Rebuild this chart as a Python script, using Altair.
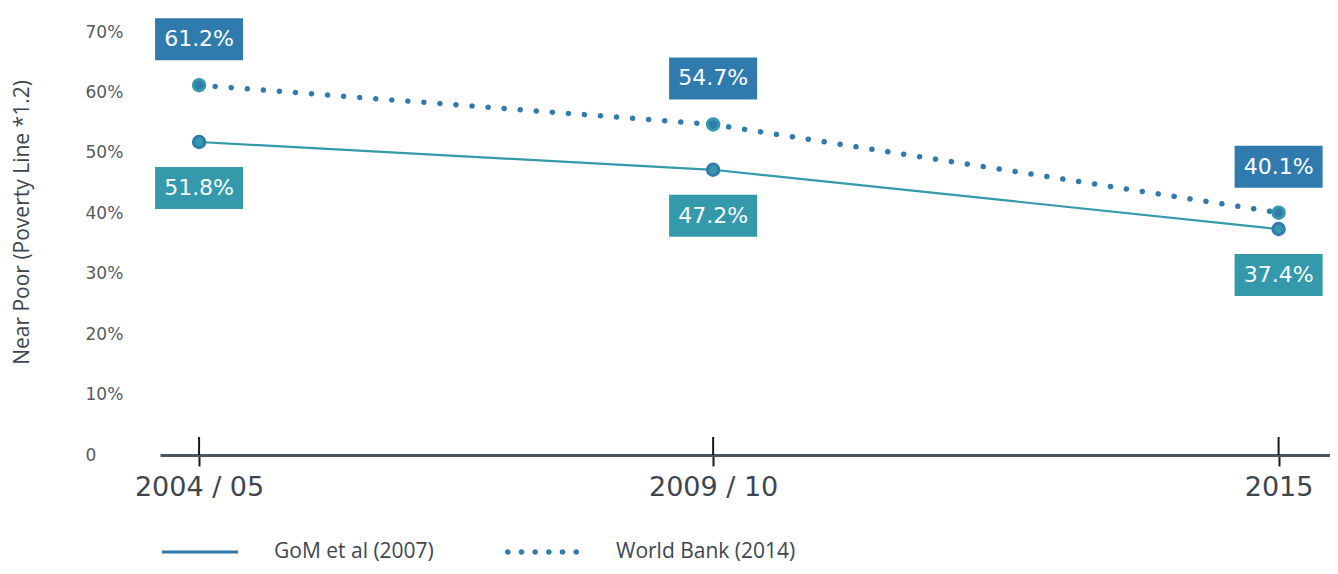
import altair as alt
import pandas as pd

# ---- data ----
periods = [2004.5, 2009.5, 2015]
period_labels = ["2004 / 05", "2009 / 10", "2015"]
gom_values = [51.8, 47.2, 37.4]
wb_values = [61.2, 54.7, 40.1]
series_names = ["GoM et al (2007)", "World Bank (2014)"]
y_ticks = [0, 10, 20, 30, 40, 50, 60, 70]

BLUE = "#2f7bae"
TEAL = "#3399ab"
TEXT = "#3d4650"
NUM_FONT = "DejaVu Sans"
TXT_FONT = "Open Sans"

rows = []
for p, pl, g, w in zip(periods, period_labels, gom_values, wb_values):
    rows.append({"period": p, "label": pl, "value": g, "series": series_names[0], "txt": f"{g:.1f}%"})
    rows.append({"period": p, "label": pl, "value": w, "series": series_names[1], "txt": f"{w:.1f}%"})
df = pd.DataFrame(rows)

W, H = 1170, 423

label_expr = " : ".join(
    f"datum.value == {p} ? '{l}'" for p, l in zip(periods[:-1], period_labels[:-1])
) + f" : '{period_labels[-1]}'"

x_enc = alt.X(
    "period:Q",
    scale=alt.Scale(domain=[2004.12, 2015.5], nice=False, zero=False),
    axis=alt.Axis(
        values=periods,
        labelExpr=label_expr,
        title=None,
        grid=False,
        domainColor="#4a5560",
        domainWidth=3,
        tickColor="#1a1a1a",
        tickWidth=2,
        tickSize=11,
        labelFont=NUM_FONT,
        labelFontSize=27,
        labelColor=TEXT,
        labelPadding=8,
    ),
)
y_enc = alt.Y(
    "value:Q",
    scale=alt.Scale(domain=[0, 70], nice=False),
    axis=alt.Axis(
        values=y_ticks,
        labelExpr="datum.value == 0 ? '0' : datum.value + '%'",
        title="Near Poor (Poverty Line *1.2)",
        titleFont=TXT_FONT,
        titleFontSize=21,
        titleFontWeight="normal",
        titleColor=TEXT,
        titleX=-138,
        titleY=190,
        titleBaseline="middle",
        grid=False,
        domain=False,
        ticks=False,
        labelAlign="left",
        labelPadding=75,
        labelFont=NUM_FONT,
        labelFontSize=17,
        labelColor="#555a60",
    ),
)

base = alt.Chart(df)
gom = base.transform_filter(alt.datum.series == series_names[0])
wb = base.transform_filter(alt.datum.series == series_names[1])

gom_line = gom.mark_line(color=TEAL, strokeWidth=2.2).encode(x=x_enc, y=y_enc)
wb_line = wb.mark_line(color=BLUE, strokeWidth=5.5, strokeDash=[0.1, 16], strokeCap="round").encode(x=x_enc, y=y_enc)

gom_pts = gom.mark_point(filled=True, fill=TEAL, stroke=BLUE, strokeWidth=3, size=130, opacity=1).encode(x=x_enc, y=y_enc)
wb_pts = wb.mark_point(filled=True, fill=BLUE, stroke=TEAL, strokeWidth=3, size=130, opacity=1).encode(x=x_enc, y=y_enc)

BOX_W, BOX_H = 88, 42
wb_box = wb.mark_rect(color=BLUE, width=BOX_W, height=BOX_H, yOffset=-46).encode(x=x_enc, y=y_enc)
gom_box = gom.mark_rect(color=TEAL, width=BOX_W, height=BOX_H, yOffset=46).encode(x=x_enc, y=y_enc)
wb_txt = wb.mark_text(color="white", font=NUM_FONT, fontSize=22, yOffset=-46, baseline="middle").encode(x=x_enc, y=y_enc, text="txt:N")
gom_txt = gom.mark_text(color="white", font=NUM_FONT, fontSize=22, yOffset=46, baseline="middle").encode(x=x_enc, y=y_enc, text="txt:N")

# upper half of the x ticks (crossing the axis line)
tick_up = alt.Chart(pd.DataFrame({"period": periods})).mark_rule(color="#1a1a1a", strokeWidth=2).encode(
    x=x_enc, y=alt.value(H - 18), y2=alt.value(H)
)

# legend (custom symbol paths)
line_path = "M-1,-0.04L1,-0.04L1,0.04L-1,0.04Z"
dots = []
for k in range(6):
    cx = -0.9 + 0.36 * k
    dots.append(f"M{cx - 0.075:.3f},0a0.075,0.075 0 1,0 0.15,0a0.075,0.075 0 1,0 -0.15,0Z")
dots_path = "".join(dots)

legend_layer = base.transform_filter("false").mark_point(filled=True, color=BLUE, opacity=1).encode(
    x=x_enc,
    y=y_enc,
    shape=alt.Shape(
        "series:N",
        scale=alt.Scale(domain=series_names, range=[line_path, dots_path]),
        legend=alt.Legend(
            title=None,
            orient="none",
            direction="horizontal",
            legendX=2,
            legendY=482,
            padding=0,
            symbolSize=76 * 76,
            symbolFillColor=BLUE,
            symbolStrokeWidth=0,
            symbolOpacity=1,
            labelFont=TXT_FONT,
            labelFontSize=21,
            labelColor=TEXT,
            labelOffset=36,
            labelLimit=400,
            columnPadding=70,
        ),
    ),
)

chart = alt.layer(
    gom_line, wb_line, tick_up, gom_pts, wb_pts, wb_box, gom_box, wb_txt, gom_txt, legend_layer
).properties(
    width=W,
    height=H,
    background="white",
    autosize=alt.AutoSizeParams(type="none"),
    padding={"left": 152, "top": 24, "right": 0, "bottom": 111},
).configure_view(strokeWidth=0, stroke=None)

chart.save("out.html", embed_options={"renderer": "svg", "actions": False})
